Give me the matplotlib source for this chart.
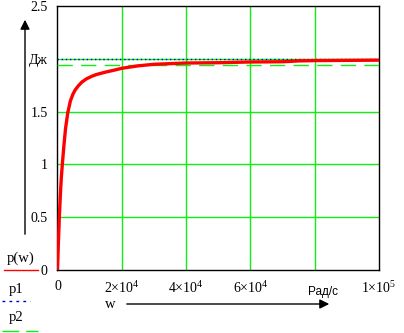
import matplotlib
matplotlib.use("Agg")
import matplotlib.pyplot as plt

plt.rcParams['font.family'] = ['Liberation Serif', 'DejaVu Serif']
plt.rcParams['mathtext.fontset'] = 'custom'
plt.rcParams['mathtext.rm'] = 'Liberation Serif'

# data
w = [0, 300, 600, 900, 1200, 1500, 2000, 2500, 3200, 4000, 4800, 5500, 6500,
     7600, 9000, 10700, 12000, 13800, 15500, 17000, 20000, 25000, 30000,
     40000, 50000, 60000, 70000, 75000, 80000, 90000, 100000]
p = [0, 0.28, 0.52, 0.72, 0.88, 1.0, 1.18, 1.34, 1.49, 1.6, 1.665, 1.705, 1.745,
     1.78, 1.81, 1.835, 1.85, 1.865, 1.878, 1.888, 1.91, 1.933, 1.948,
     1.96, 1.963, 1.97, 1.972, 1.98, 1.983, 1.985, 1.987]
p1 = 2.0
p2 = 1.94

x_ticks = [0, 20000, 40000, 60000, 80000, 100000]
x_labels = ['0', r'2×10$^{4}$', r'4×10$^{4}$', r'6×10$^{4}$', '', r'1×10$^{5}$']
y_ticks = [0, 0.5, 1, 1.5, 2, 2.5]
y_labels = ['0', '0.5', '1', '1.5', 'Дж', '2.5']

W, H = 404, 333
fig = plt.figure(figsize=(W / 100, H / 100), dpi=100)
ax = fig.add_axes([57.5 / W, (H - 270) / H, (379 - 57.5) / W, (270 - 6) / H])

grid_col = '#11ee11'
for gx in x_ticks[1:-1]:
    ax.axvline(gx, color=grid_col, lw=1, zorder=1)
for gy in y_ticks[1:-1]:
    ax.axhline(gy, color=grid_col, lw=1, zorder=1)

ax.plot([0, 100000], [p1, p1], color='#0000cc', lw=1, ls=(0, (1, 2)), zorder=3)
ax.plot([0, 100000], [p2, p2], color=grid_col, lw=1, ls=(0, (11, 6)), zorder=3)
ax.plot(w, p, color='#ff0000', lw=2.4, zorder=4)

ax.set_xlim(0, 100000)
ax.set_ylim(0, 2.5)
ax.set_xticks(x_ticks)
ax.set_xticklabels(x_labels)
ax.set_yticks(y_ticks)
ax.set_yticklabels(y_labels)
ax.tick_params(length=0, labelsize=10, colors='black')
ax.tick_params(axis='x', pad=7)
ax.tick_params(axis='y', pad=7)
for s in ax.spines.values():
    s.set_color('black')
    s.set_linewidth(1)


def fx(x):
    return x / W


def fy(y):
    return 1 - y / H


# vertical arrow on the left
ax.annotate('', xy=(25, H - 17), xytext=(25, H - 237), xycoords='figure pixels',
            textcoords='figure pixels',
            arrowprops=dict(arrowstyle='-|>', color='black', lw=1,
                            mutation_scale=14), annotation_clip=False)
# horizontal arrow at the bottom
ax.annotate('', xy=(332, H - 304), xytext=(124, H - 304), xycoords='figure pixels',
            textcoords='figure pixels',
            arrowprops=dict(arrowstyle='-|>', color='black', lw=1,
                            mutation_scale=14), annotation_clip=False)

fig.text(fx(110), fy(304), 'w', fontsize=10.5, ha='center', va='center')
fig.text(fx(323), fy(292), 'Рад/с', fontsize=8.5, ha='center', va='center',
         family=['Liberation Sans', 'DejaVu Sans'])

# legend block
fig.text(fx(21), fy(258), 'p(w)', fontsize=10.5, ha='center', va='center')
fig.add_artist(plt.Line2D([fx(4), fx(38)], [fy(270), fy(270)], color='#ff0000', lw=1))
fig.text(fx(16), fy(289), 'p1', fontsize=10.5, ha='center', va='center')
fig.add_artist(plt.Line2D([fx(2), fx(30)], [fy(301), fy(301)], color='#0000cc', lw=1,
                          ls=(0, (2, 3))))
fig.text(fx(16), fy(318), 'p2', fontsize=10.5, ha='center', va='center')
fig.add_artist(plt.Line2D([fx(2), fx(38)], [fy(331), fy(331)], color=grid_col, lw=1,
                          ls=(0, (12, 5))))

plt.savefig('out.png', dpi=100)
